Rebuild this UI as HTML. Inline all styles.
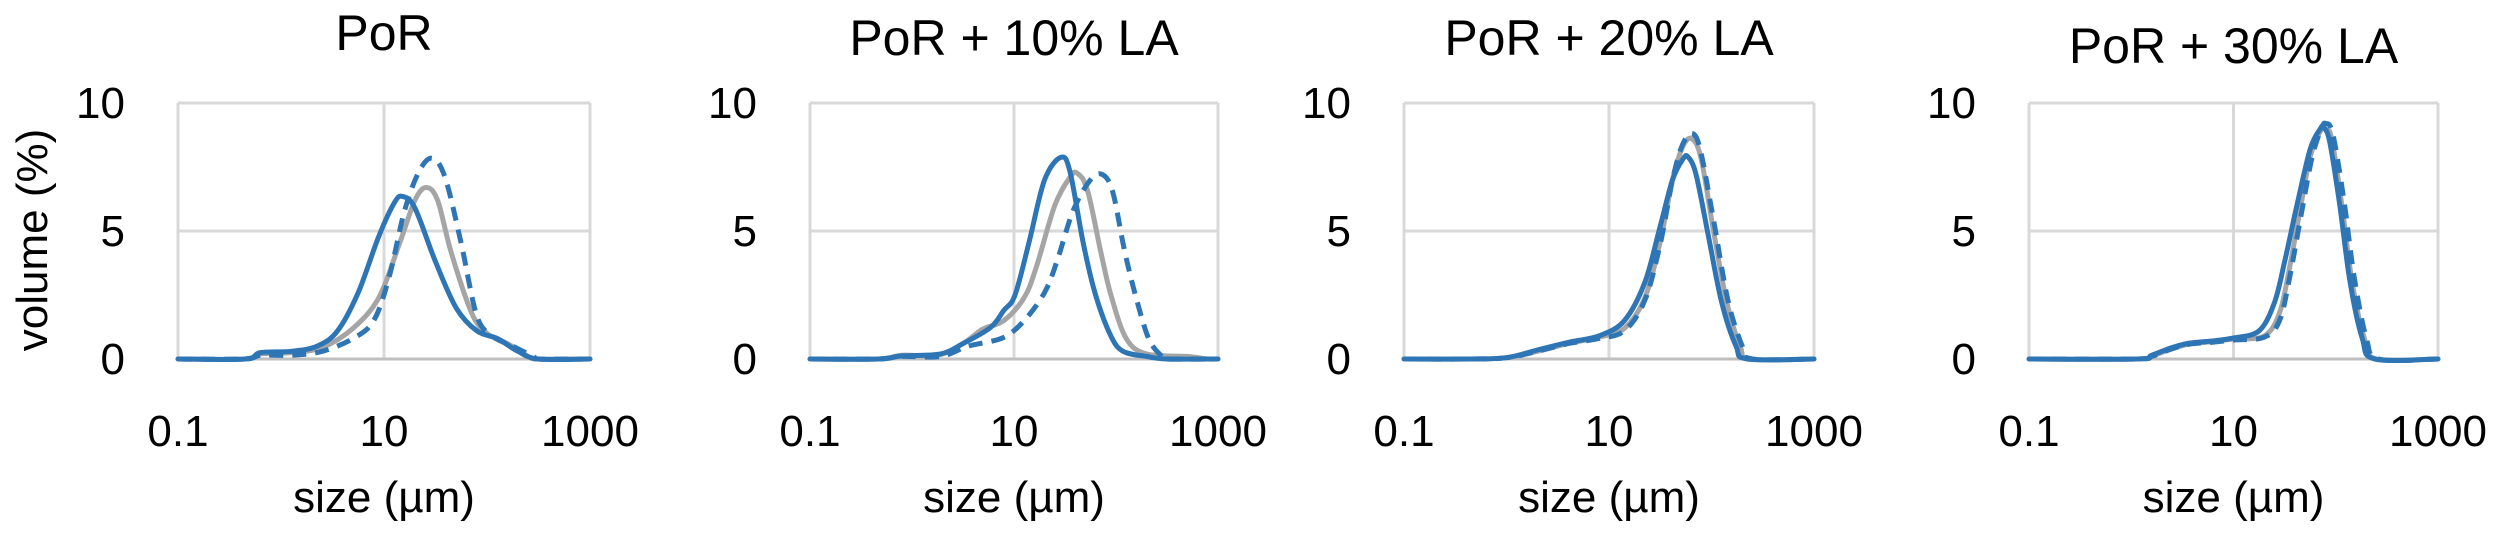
<!DOCTYPE html>
<html><head><meta charset="utf-8"><style>
html,body{margin:0;padding:0;background:#fff;}
svg{display:block;font-family:"Liberation Sans",sans-serif;}
</style></head><body>
<svg id="s" width="2500" height="538" xmlns="http://www.w3.org/2000/svg"></svg>
<script>
const S=document.getElementById('s');
const TOP=103,ZERO=359;
const panels=[
 {l:178,r:590,title:"PoR",tb:50,
  curves:[
   {c:"#a5a5a5",d:false,p:[[-1,0],[-0.35,0],[-0.2,0.2],[0.1,0.25],[0.4,0.45],[0.7,1.2],[0.95,2.4],[1.15,4.5],[1.3,6.2],[1.41,6.7],[1.52,6.2],[1.65,4.2],[1.85,1.8],[2.0,1.0],[2.2,0.6],[2.4,0.1],[2.5,0],[3,0]]},
   {c:"#2e75b6",d:false,p:[[-1,0],[-0.35,0],[-0.2,0.25],[0.1,0.3],[0.35,0.5],[0.55,1.1],[0.75,2.6],[0.95,4.8],[1.1,6.1],[1.18,6.35],[1.3,5.9],[1.5,3.8],[1.7,2.0],[1.9,1.1],[2.1,0.8],[2.3,0.3],[2.5,0],[3,0]]},
   {c:"#2e75b6",d:true,p:[[-1,0],[-0.35,0],[-0.2,0.15],[0.1,0.15],[0.4,0.3],[0.7,0.8],[0.9,1.5],[1.05,3.2],[1.2,5.8],[1.35,7.4],[1.48,7.83],[1.6,7.0],[1.75,4.5],[1.9,1.7],[2.05,0.9],[2.25,0.5],[2.45,0.1],[2.5,0],[3,0]]}
  ]},
 {l:810,r:1218,title:"PoR + 10% LA",tb:55,
  curves:[
   {c:"#a5a5a5",d:false,p:[[-1,0],[-0.33,0],[-0.1,0.15],[0.25,0.15],[0.5,0.6],[0.69,1.16],[0.9,1.5],[1.1,2.4],[1.22,3.6],[1.4,6.0],[1.55,7.1],[1.62,7.26],[1.72,6.6],[1.85,4.2],[1.95,2.5],[2.1,0.8],[2.3,0.2],[2.7,0.1],[2.9,0],[3,0]]},
   {c:"#2e75b6",d:false,p:[[-1,0],[-0.33,0],[-0.1,0.12],[0.28,0.2],[0.5,0.6],[0.77,1.23],[0.9,1.9],[1.01,2.5],[1.15,4.6],[1.3,7.0],[1.46,7.88],[1.55,7.3],[1.68,4.5],[1.8,2.5],[1.95,0.9],[2.07,0.3],[2.3,0.1],[2.5,0],[3,0]]},
   {c:"#2e75b6",d:true,p:[[-1,0],[-0.33,0],[-0.1,0.1],[0.28,0.1],[0.55,0.5],[0.89,0.83],[1.1,1.5],[1.3,2.6],[1.42,3.8],[1.58,5.8],[1.75,7.0],[1.87,7.2],[1.97,6.5],[2.08,4.3],[2.19,2.5],[2.32,0.8],[2.45,0.1],[2.5,0],[3,0]]}
  ]},
 {l:1404,r:1814,title:"PoR + 20% LA",tb:55,
  curves:[
   {c:"#a5a5a5",d:false,p:[[-1,0],[-0.35,0],[0.0,0.05],[0.3,0.3],[0.6,0.6],[0.9,0.85],[1.15,1.2],[1.35,2.4],[1.5,4.6],[1.62,7.0],[1.72,8.3],[1.81,8.6],[1.9,7.8],[2.02,5.0],[2.15,2.2],[2.28,0.5],[2.38,0],[3,0]]},
   {c:"#2e75b6",d:false,p:[[-1,0],[-0.35,0],[0.0,0.05],[0.3,0.35],[0.6,0.65],[0.9,0.9],[1.15,1.5],[1.35,3.0],[1.5,5.2],[1.62,7.0],[1.72,7.8],[1.77,7.9],[1.85,7.2],[1.97,4.8],[2.1,2.2],[2.24,0.5],[2.35,0],[3,0]]},
   {c:"#2e75b6",d:true,p:[[-1,0],[-0.35,0],[0.0,0.05],[0.3,0.3],[0.6,0.6],[0.9,0.8],[1.15,1.1],[1.35,2.3],[1.5,4.5],[1.62,7.0],[1.72,8.4],[1.82,8.8],[1.9,8.0],[2.03,5.2],[2.16,2.3],[2.3,0.5],[2.4,0],[3,0]]}
  ]},
 {l:2029,r:2438,title:"PoR + 30% LA",tb:63,
  curves:[
   {c:"#a5a5a5",d:false,p:[[-1,0],[0.05,0],[0.2,0.12],[0.4,0.4],[0.57,0.59],[0.78,0.67],[1.0,0.78],[1.3,0.9],[1.45,1.8],[1.55,3.6],[1.65,5.8],[1.75,7.9],[1.85,8.9],[1.9,9.0],[1.96,8.6],[2.06,6.0],[2.16,3.0],[2.28,0.8],[2.4,0],[3,0]]},
   {c:"#2e75b6",d:false,p:[[-1,0],[0.05,0],[0.2,0.15],[0.4,0.45],[0.57,0.62],[0.78,0.7],[1.0,0.82],[1.25,1.1],[1.4,2.2],[1.5,3.8],[1.62,6.0],[1.75,8.2],[1.85,9.0],[1.88,9.05],[1.94,8.5],[2.04,6.0],[2.14,3.0],[2.26,0.8],[2.38,0],[3,0]]},
   {c:"#2e75b6",d:true,p:[[-1,0],[0.05,0],[0.2,0.1],[0.4,0.4],[0.57,0.58],[0.78,0.65],[1.0,0.74],[1.3,0.85],[1.45,1.5],[1.55,3.2],[1.66,5.6],[1.77,7.9],[1.86,9.0],[1.9,9.2],[1.97,8.8],[2.08,6.2],[2.18,3.2],[2.3,0.8],[2.42,0],[3,0]]}
  ]}
];
function el(t,a,txt){const e=document.createElementNS("http://www.w3.org/2000/svg",t);for(const k in a)e.setAttribute(k,a[k]);if(txt!==undefined)e.textContent=txt;S.appendChild(e);return e;}
function path(pts){
 let d="M"+pts[0][0].toFixed(1)+","+pts[0][1].toFixed(1);
 for(let i=0;i<pts.length-1;i++){
  const p0=pts[Math.max(0,i-1)],p1=pts[i],p2=pts[i+1],p3=pts[Math.min(pts.length-1,i+2)];
  const t=1/6;
  const c1=[p1[0]+(p2[0]-p0[0])*t,p1[1]+(p2[1]-p0[1])*t];
  const c2=[p2[0]-(p3[0]-p1[0])*t,p2[1]-(p3[1]-p1[1])*t];
  d+=" C"+c1.map(v=>v.toFixed(1)).join(",")+" "+c2.map(v=>v.toFixed(1)).join(",")+" "+p2.map(v=>v.toFixed(1)).join(",");
 }
 return d;
}
panels.forEach((P,i)=>{
 const dec=(P.r-P.l)/4, mid=(P.l+P.r)/2;
 const X=l=>P.l+(l+1)*dec, Y=v=>ZERO-v*(ZERO-TOP)/10;
 [TOP,(TOP+ZERO)/2].forEach(y=>el("line",{x1:P.l,x2:P.r,y1:y,y2:y,stroke:"#d9d9d9","stroke-width":3}));
 [P.l,mid,P.r].forEach(x=>el("line",{x1:x,x2:x,y1:TOP,y2:ZERO,stroke:"#d9d9d9","stroke-width":3}));
 el("line",{x1:P.l,x2:P.r,y1:ZERO,y2:ZERO,stroke:"#bfbfbf","stroke-width":3});
 [["10",TOP],["5",(TOP+ZERO)/2],["0",ZERO]].forEach(([t,y])=>el("text",{x:P.l-53,y:y+15,"font-size":44,"text-anchor":"end"},t));
 [["0.1",P.l],["10",mid],["1000",P.r]].forEach(([t,x])=>el("text",{x:x,y:446,"font-size":44,"text-anchor":"middle"},t));
 el("text",{x:mid,y:512,"font-size":44,"text-anchor":"middle"},"size (µm)");
 el("text",{x:mid,y:P.tb,"font-size":50,"text-anchor":"middle"},P.title);
 P.curves.forEach(c=>{
  const pts=c.p.map(([l,v])=>[X(Math.min(3,l)),Y(v)]);
  const a={d:path(pts),fill:"none",stroke:c.c,"stroke-width":5,"stroke-linejoin":"round","stroke-linecap":"round"};
  if(c.d){a["stroke-dasharray"]="14 9";a["stroke-linecap"]="butt";}
  el("path",a);
 });
});
el("text",{x:0,y:0,"font-size":44,"text-anchor":"middle",transform:"translate(47,240) rotate(-90)"},"volume (%)");
</script>
</body></html>
